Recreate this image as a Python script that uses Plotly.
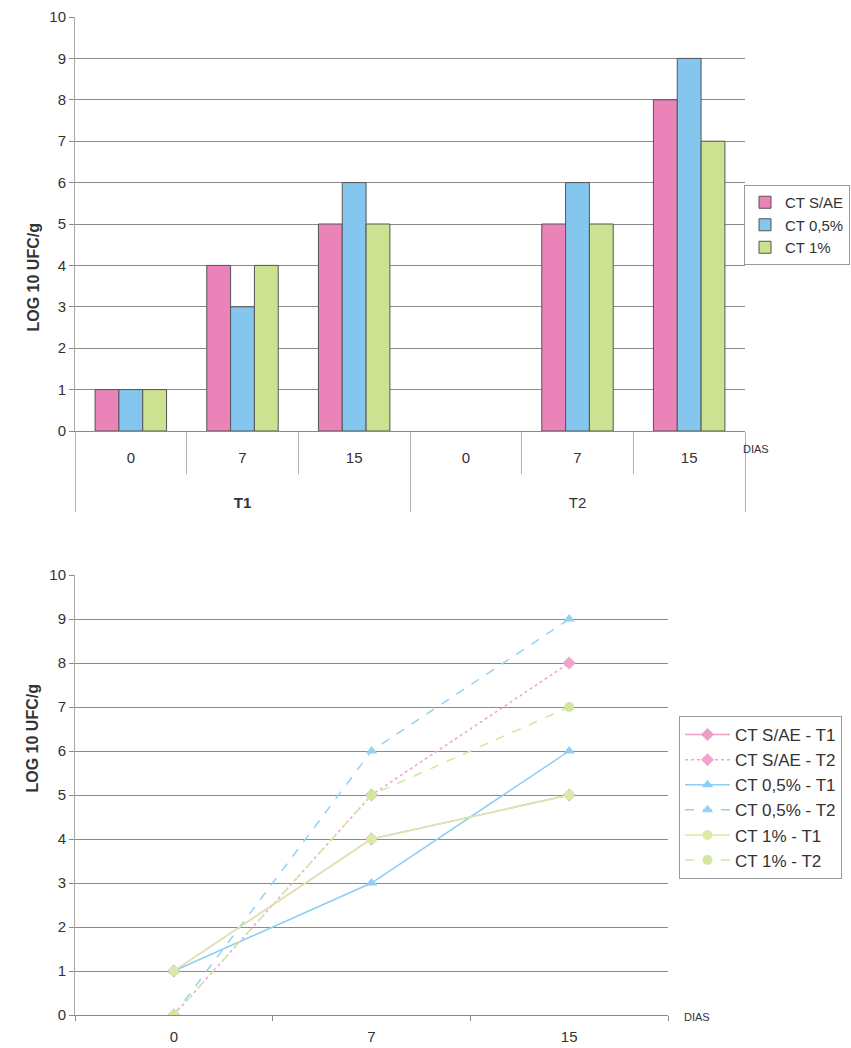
import plotly.graph_objects as go

# ---- data ----
treatments = ["<br><br><b>T1</b>"] * 3 + ["<br><br>T2"] * 3
days_cat = ["0", "7", "15", "0", "7", "15"]
bar_sae = [1, 4, 5, 0, 5, 8]
bar_05 = [1, 3, 6, 0, 6, 9]
bar_1 = [1, 4, 5, 0, 5, 7]

days = ["0", "7", "15"]
sae_t1 = [1, 4, 5]
sae_t2 = [0, 5, 8]
c05_t1 = [1, 3, 6]
c05_t2 = [0, 6, 9]
c1_t1 = [1, 4, 5]
c1_t2 = [0, 5, 7]

PINK = "#ea84b8"
BLUE = "#84c6ee"
GREEN = "#cce290"
W, H = 851, 1048
FONT = "Liberation Sans, Arial"

fig = go.Figure()

# ---- top: grouped bars on a two-level category axis ----
for name, vals, col in [("CT S/AE", bar_sae, PINK), ("CT 0,5%", bar_05, BLUE), ("CT 1%", bar_1, GREEN)]:
    fig.add_trace(go.Bar(
        x=[treatments, days_cat], y=vals, name=name,
        marker=dict(color=col,
                    line=dict(color="#555555", width=[1 if v > 0 else 0 for v in vals])),
        xaxis="x", yaxis="y", legend="legend",
    ))

# ---- bottom: lines per treatment ----
line_specs = [
    ("CT S/AE - T1", sae_t1, "#f09cc8", "solid", "diamond"),
    ("CT S/AE - T2", sae_t2, "#f0a4cc", "dot", "diamond"),
    ("CT 0,5% - T1", c05_t1, "#8ccff2", "solid", "triangle-up"),
    ("CT 0,5% - T2", c05_t2, "#94d2f2", "dash", "triangle-up"),
    ("CT 1% - T1", c1_t1, "#dbeaa8", "solid", "circle"),
    ("CT 1% - T2", c1_t2, "#d3e6a0", "dash", "circle"),
]
for name, vals, col, dash, sym in line_specs:
    fig.add_trace(go.Scatter(
        x=days, y=vals, name=name, mode="lines+markers",
        line=dict(color=col, width=1.5, dash=dash),
        marker=dict(symbol=sym, size=10, color=col),
        xaxis="x2", yaxis="y2", legend="legend2",
    ))

def py(p):
    return 1 - p / H

def px(p):
    return p / W

axis_font = dict(family=FONT, size=15, color="#333333")
grid = "#8a8a8a"

fig.update_layout(
    width=W, height=H,
    margin=dict(l=0, r=0, t=0, b=0),
    paper_bgcolor="white", plot_bgcolor="white",
    font=dict(family=FONT, color="#333333"),
    barmode="group", bargap=0.36, bargroupgap=0,
    xaxis=dict(
        domain=[px(75), px(745)], anchor="y", type="multicategory", automargin=False,
        tickfont=axis_font, showline=True, linecolor=grid,
        ticks="outside", ticklen=42, tickcolor="#b0b0b0", tickson="boundaries",
        ticklabelstandoff=13,
        showdividers=True, dividercolor="#b0b0b0", dividerwidth=1,
    ),
    yaxis=dict(
        domain=[py(431), py(17)], anchor="x", range=[0, 10], dtick=1, automargin=False,
        tickfont=axis_font, showgrid=True, gridcolor=grid, gridwidth=1,
        showline=True, linecolor="#aaaaaa", ticks="outside", ticklen=5, tickcolor=grid,
        zeroline=False,
    ),
    xaxis2=dict(
        domain=[px(75), px(668)], anchor="y2", type="category", automargin=False,
        range=[-0.5, 2.5],
        tickfont=axis_font, showline=True, linecolor=grid,
        ticks="outside", ticklen=5, tickcolor=grid, tickson="boundaries",
        ticklabelstandoff=8,
    ),
    yaxis2=dict(
        domain=[py(1015), py(575)], anchor="x2", range=[0, 10], dtick=1, automargin=False,
        tickfont=axis_font, showgrid=True, gridcolor=grid, gridwidth=1,
        showline=True, linecolor="#aaaaaa", ticks="outside", ticklen=5, tickcolor=grid,
        zeroline=False,
    ),
    legend=dict(
        x=px(744), y=py(185), xanchor="left", yanchor="top",
        bordercolor="#999999", borderwidth=1, bgcolor="white",
        font=dict(family=FONT, size=15, color="#333333"), tracegroupgap=0,
        itemwidth=30,
    ),
    legend2=dict(
        x=px(679), y=py(716), xanchor="left", yanchor="top",
        bordercolor="#999999", borderwidth=1, bgcolor="white",
        font=dict(family=FONT, size=17, color="#333333"), tracegroupgap=0,
        itemwidth=45,
    ),
    showlegend=True,
)

for yc in (222, 795):
    fig.add_annotation(
        x=px(22), y=py(yc), xref="paper", yref="paper", text="<b>LOG 10 UFC/g</b>",
        textangle=-90, showarrow=False, font=dict(family=FONT, size=16, color="#333333"),
    )
fig.add_annotation(x=px(771), y=py(449), xref="paper", yref="paper", text="DIAS",
                   showarrow=False, font=dict(family=FONT, size=11, color="#333333"))
fig.add_annotation(x=px(712), y=py(1025), xref="paper", yref="paper", text="DIAS",
                   showarrow=False, font=dict(family=FONT, size=11, color="#333333"))

fig.write_html("out.html")
